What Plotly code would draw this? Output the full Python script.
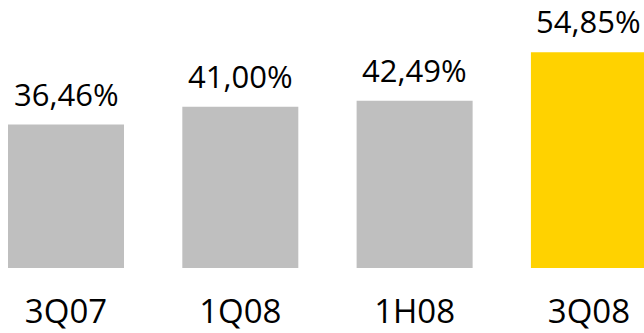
import plotly.graph_objects as go

categories = ["3Q07", "1Q08", "1H08", "3Q08"]
values = [36.46, 41.00, 42.49, 54.85]
value_labels = ["36,46%", "41,00%", "42,49%", "54,85%"]
colors = ["#BFBFBF", "#BFBFBF", "#BFBFBF", "#FFD200"]

FONT = "Open Sans"

fig = go.Figure()
fig.add_trace(go.Bar(
    x=categories,
    y=values,
    marker=dict(color=colors, line=dict(width=0)),
    hoverinfo="skip",
))

for c, v, t in zip(categories, values, value_labels):
    fig.add_annotation(
        x=c, y=v, text=t, showarrow=False,
        xanchor="center", yanchor="bottom", yshift=8,
        font=dict(family=FONT, size=31, color="#000000"),
    )

fig.update_layout(
    width=644, height=333,
    margin=dict(l=0, r=0, t=0, b=65, pad=0, autoexpand=False),
    paper_bgcolor="white", plot_bgcolor="white",
    bargap=0.3345,
    showlegend=False,
    xaxis=dict(
        range=[-0.3787, 3.316], automargin=False,
        showgrid=False, zeroline=False, showline=False,
        ticks="", ticklabelstandoff=21,
        tickfont=dict(family=FONT, size=33, color="#000000"),
    ),
    yaxis=dict(
        range=[0, 68.1], automargin=False,
        showgrid=False, zeroline=False, showline=False,
        showticklabels=False, ticks="",
    ),
)

fig.write_html(
    "out.html",
    config={"displayModeBar": False},
    post_script="document.body.style.margin='0';document.body.style.overflow='hidden';",
)
